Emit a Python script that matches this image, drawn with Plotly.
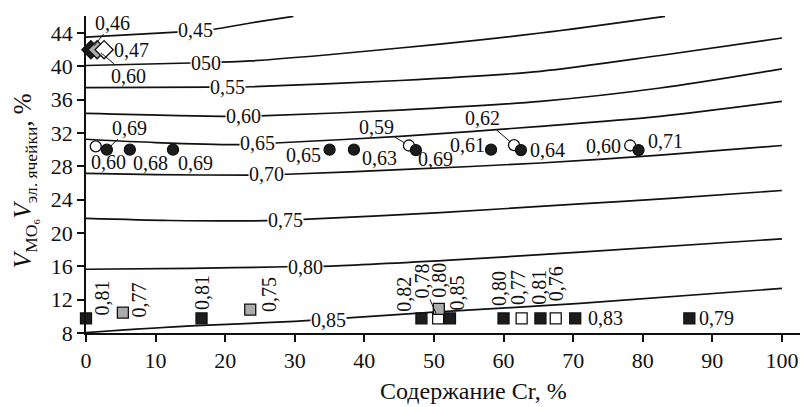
import plotly.graph_objects as go

# ---------------- data ----------------
# iso-lines (x, y)
c045_x = [0, 13, 18, 23.6, 29.8]
c045_y = [43.5, 44.1, 44.4, 45.2, 46.0]
c050_x = [0, 15, 23.6, 45.1, 65.3, 83.2]
c050_y = [40.1, 40.4, 40.65, 42.2, 44.0, 46.0]
c055_x = [0, 17.8, 23.6, 45.1, 65.3, 82.5, 100]
c055_y = [37.45, 37.5, 37.55, 38.3, 39.4, 41.3, 43.4]
c060_x = [0, 20, 25, 45.1, 65.3, 82.5, 100]
c060_y = [34.35, 34.0, 34.05, 34.75, 35.8, 37.4, 39.7]
c065_x = [0, 10, 22, 27.2, 45.1, 65.3, 82.5, 100]
c065_y = [31.25, 30.85, 30.6, 30.8, 31.6, 32.8, 34.0, 35.8]
c070_x = [0, 10, 23.6, 28.9, 45.1, 65.3, 82.5, 100]
c070_y = [27.15, 27.0, 26.95, 27.05, 27.6, 28.4, 29.35, 30.5]
c075_x = [0, 12, 26, 31.2, 50.9, 71, 83.9, 100]
c075_y = [21.75, 21.5, 21.48, 21.64, 22.45, 23.5, 24.15, 25.1]
c080_x = [0, 15, 28.9, 33.9, 52.3, 71, 100]
c080_y = [15.65, 15.75, 15.95, 16.0, 16.75, 17.7, 19.3]
c085_x = [0, 15, 30, 50, 71, 100]
c085_y = [8.05, 8.85, 9.4, 10.5, 11.55, 13.35]
curve_labels = ["0,45", "050", "0,55", "0,60", "0,65", "0,70", "0,75", "0,80", "0,85"]

# diamonds
diamond_x = [0.7, 1.6, 2.6]
diamond_y = [42.0, 42.0, 42.0]
diamond_fill = ["black", "gray", "white"]
diamond_labels = ["0,46", "0,60", "0,47"]

# circles
circle_x = [1.4, 3.0, 6.3, 12.5, 35.0, 38.5, 46.4, 47.4, 58.2, 61.5, 62.5, 78.2, 79.4]
circle_y = [30.4, 30.0, 30.0, 30.0, 30.0, 30.0, 30.5, 29.95, 30.0, 30.55, 29.95, 30.5, 29.95]
circle_fill = ["white", "black", "black", "black", "black", "black", "white", "black",
               "black", "white", "black", "white", "black"]
circle_labels = ["0,60", "0,69", "0,68", "0,69", "0,65", "0,63", "0,59", "0,69",
                 "0,61", "0,62", "0,64", "0,60", "0,71"]

# squares
square_x = [0.0, 5.3, 16.6, 23.6, 48.2, 50.6, 50.7, 52.3, 60.0, 62.6, 65.3, 67.5, 70.3, 86.7]
square_y = [9.75, 10.45, 9.75, 10.8, 9.75, 9.75, 10.9, 9.75, 9.75, 9.75, 9.75, 9.75, 9.75, 9.75]
square_fill = ["black", "gray", "black", "gray", "black", "white", "gray", "black",
               "black", "white", "black", "white", "black", "black"]
square_labels = ["0,81", "0,77", "0,81", "0,75", "0,82", "0,78", "0,80", "0,85",
                 "0,80", "0,77", "0,81", "0,76", "0,83", "0,79"]

x_ticks = [0, 10, 20, 30, 40, 50, 60, 70, 80, 90, 100]
y_ticks = [8, 12, 16, 20, 24, 28, 32, 36, 40, 44]

# ---------------- styling / layout positions ----------------
FONT = "Liberation Serif, Times New Roman, serif"
FS = 20
INK = "#111111"
COLORS = {"black": "#1c1c1c", "gray": "#ababab", "white": "#ffffff"}

curve_label_pos = [(15.8, 44.4), (17.2, 40.44), (20.3, 37.56), (22.6, 34.08), (24.6, 30.84),
                   (26.0, 27.12), (28.6, 21.6), (31.5, 15.96), (34.9, 9.6)]

# offsets (dx right, dy down in px), leader flag, angle
diamond_off = [(22, -27, True), (31, 26, True), (27, 0, False)]
circle_off = [(13, 16, False), (23, -22, True), (21, 13, False), (23, 13, False),
              (-26, 5, False), (26, 8, False), (-32, -19, True), (20, 9, False),
              (-24, -5, False), (-31, -27, True), (27, 0, False), (-27, 0, False),
              (27, -9, False)]
square_off = [(16, -20, False, -90), (16, -13, False, -90), (1, -26, False, -90),
              (18, -15, False, -90), (-17, -24, False, -90), (-16, -37, True, -90),
              (0, -29, False, -90), (7, -26, False, -90), (-4, -30, False, -90),
              (-3, -31, False, -90), (-1, -31, False, -90), (1, -35, False, -90),
              (30, 0, False, 0), (27, 0, False, 0)]

fig = go.Figure()

curves = [(c045_x, c045_y), (c050_x, c050_y), (c055_x, c055_y), (c060_x, c060_y),
          (c065_x, c065_y), (c070_x, c070_y), (c075_x, c075_y), (c080_x, c080_y),
          (c085_x, c085_y)]
for cx, cy in curves:
    fig.add_trace(go.Scatter(x=cx, y=cy, mode="lines", showlegend=False, hoverinfo="skip",
                             line=dict(color=INK, width=1.7, shape="spline", smoothing=0.8),
                             cliponaxis=False))

annotations = []
for lab, (lx, ly) in zip(curve_labels, curve_label_pos):
    annotations.append(dict(x=lx, y=ly, xref="x", yref="y", text=lab, showarrow=False,
                            bgcolor="white", borderpad=0,
                            font=dict(family=FONT, size=FS, color=INK)))


def add_points(xs, ys, fills, symbol, size):
    fig.add_trace(go.Scatter(
        x=xs, y=ys, mode="markers", showlegend=False, cliponaxis=False, hoverinfo="skip",
        marker=dict(symbol=symbol, size=size, color=[COLORS[f] for f in fills],
                    line=dict(color=INK, width=1.3))))


add_points(diamond_x, diamond_y, diamond_fill, "diamond", 14)
add_points(circle_x, circle_y, circle_fill, "circle", 11)
add_points(square_x, square_y, square_fill, "square", 11)


def add_labels(xs, ys, labels, offs):
    for x, y, lab, off in zip(xs, ys, labels, offs):
        dx, dy, leader = off[0], off[1], off[2]
        ang = off[3] if len(off) > 3 else 0
        if leader:
            annotations.append(dict(x=x, y=y, xref="x", yref="y", text=lab, showarrow=True,
                                    ax=dx, ay=dy, arrowhead=0, arrowwidth=1, arrowcolor=INK,
                                    standoff=5, textangle=ang, borderpad=0,
                                    font=dict(family=FONT, size=FS, color=INK)))
        else:
            annotations.append(dict(x=x, y=y, xref="x", yref="y", text=lab, showarrow=False,
                                    xshift=dx, yshift=-dy, textangle=ang,
                                    font=dict(family=FONT, size=FS, color=INK)))


add_labels(diamond_x, diamond_y, diamond_labels, diamond_off)
add_labels(circle_x, circle_y, circle_labels, circle_off)
add_labels(square_x, square_y, square_labels, square_off)

# axis titles
annotations.append(dict(x=0.543, y=-0.182, xref="paper", yref="paper", showarrow=False,
                        xanchor="center", yanchor="middle",
                        text="Содержание Cr, %", font=dict(family=FONT, size=24, color=INK)))
annotations.append(dict(x=-0.085, y=0.48, xref="paper", yref="paper", showarrow=False, textangle=-90,
                        xanchor="center", yanchor="middle",
                        text="<i>V</i><sub>MO₆</sub><i>V</i><sub>эл. ячейки</sub>, %",
                        font=dict(family=FONT, size=25, color=INK)))

fig.update_layout(
    width=801, height=407,
    margin=dict(l=86, r=1, t=16, b=74),
    paper_bgcolor="white", plot_bgcolor="white",
    annotations=annotations,
    xaxis=dict(range=[0, 102.6], tickvals=x_ticks, ticktext=[str(v) for v in x_ticks],
               showgrid=False, zeroline=False, showline=True, linecolor=INK, linewidth=1.5,
               ticks="outside", ticklen=7, tickwidth=1.5, tickcolor=INK,
               tickfont=dict(family=FONT, size=22, color=INK)),
    yaxis=dict(range=[8, 46.04], tickvals=y_ticks, ticktext=[str(v) for v in y_ticks],
               showgrid=False, zeroline=False, showline=True, linecolor=INK, linewidth=1.5,
               ticks="outside", ticklen=7, tickwidth=1.5, tickcolor=INK,
               tickfont=dict(family=FONT, size=22, color=INK)),
)

fig.write_html("out.html")
